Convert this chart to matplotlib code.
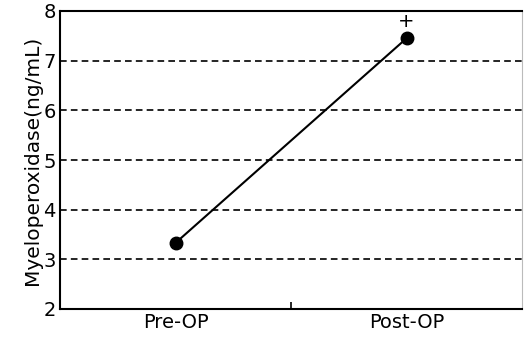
import matplotlib
matplotlib.use('Agg')
from matplotlib import pyplot as plt

groups = ['Pre-OP', 'Post-OP']
mpo = [3.33, 7.45]
sig_marks = ['', '+']

fig = plt.figure(figsize=(5.24, 3.38), dpi=100)
ax = fig.add_axes([60/524, 29/338, 462/524, 298/338])

x = [0, 1]
ax.plot(x, mpo, color='black', linewidth=1.5, marker='o', markersize=9, zorder=3)
for xi, yi, s in zip(x, mpo, sig_marks):
    if s:
        ax.text(xi, yi + 0.15, s, ha='center', va='bottom', fontsize=14)

for g in [3, 4, 5, 6, 7]:
    ax.axhline(g, color='black', linestyle=(0, (4, 2.5)), linewidth=1.2, zorder=1)

ax.set_xlim(-0.5, 1.5)
ax.set_ylim(2, 8)
ax.set_yticks([2, 3, 4, 5, 6, 7, 8])
ax.set_yticklabels(['2', '3', '4', '5', '6', '7', '8'], fontsize=14)
ax.tick_params(axis='y', length=0, pad=3)

ax.set_xticks([0, 1])
ax.set_xticklabels(groups, fontsize=14)
ax.tick_params(axis='x', length=0, pad=3)
ax.set_xticks([0.5], minor=True)
ax.tick_params(axis='x', which='minor', direction='in', length=5, width=1.2)

ax.set_ylabel('Myeloperoxidase(ng/mL)', fontsize=14.5, labelpad=1)

for side in ['left', 'bottom', 'top']:
    ax.spines[side].set_linewidth(1.5)
ax.spines['right'].set_color('#bbbbbb')
ax.spines['right'].set_linewidth(0.8)

fig.savefig('out.png', dpi=100)
